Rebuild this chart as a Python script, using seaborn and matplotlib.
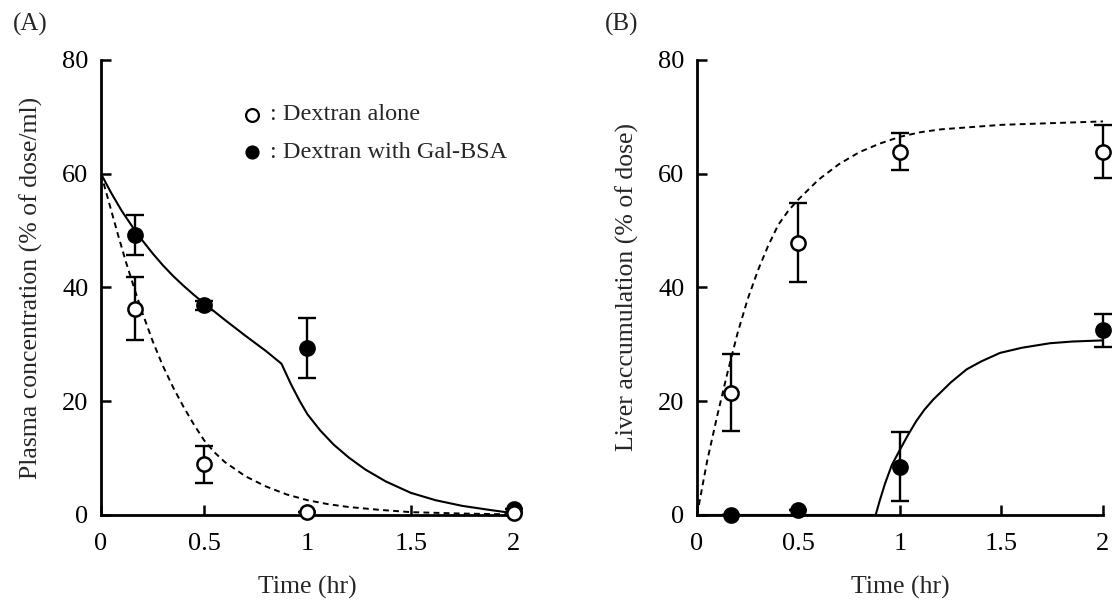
import numpy as np
import pandas as pd
import matplotlib
matplotlib.use("Agg")
import matplotlib.pyplot as plt
import seaborn as sns

# ---- observed data ----
t_obs = [1/6, 0.5, 1.0, 2.0]
# Panel A: plasma concentration (% of dose/ml)
plasma_alone = [36.3, 8.9, 0.5, 0.3]
plasma_alone_err = [5.5, 3.2, 0.0, 0.0]
plasma_gal = [49.3, 36.9, 29.3, 1.0]
plasma_gal_err = [3.5, 0.8, 5.3, 0.0]
# Panel B: liver accumulation (% of dose)
liver_alone = [21.5, 47.9, 63.9, 63.9]
liver_alone_err = [6.8, 7.0, 3.2, 4.7]
liver_gal = [0.0, 0.9, 8.5, 32.5]
liver_gal_err = [0.0, 0.0, 6.1, 2.9]

# ---- fitted curves ----
fitA_alone_t = [0, 0.04, 0.083, 0.12, 0.167, 0.2, 0.25, 0.3, 0.35, 0.4, 0.45, 0.5,
                0.55, 0.6, 0.7, 0.8, 0.9, 1.0, 1.1, 1.2, 1.35, 1.5, 1.75, 2.0]
fitA_alone_y = [60, 54.8, 49.2, 44.6, 39.2, 35.6, 30.6, 26.2, 22.4, 19.0, 15.9, 13.1,
                11.0, 9.3, 6.8, 5.0, 3.6, 2.6, 1.9, 1.4, 0.9, 0.5, 0.25, 0.1]
fitA_gal_t = [0, 0.05, 0.1, 0.15, 0.2, 0.25, 0.3, 0.35, 0.4, 0.45, 0.5, 0.6, 0.7, 0.8,
              0.874, 0.92, 0.963, 1.0, 1.061, 1.126, 1.2, 1.28, 1.379, 1.5, 1.62, 1.75,
              1.88, 2.0]
fitA_gal_y = [60, 56.6, 53.5, 50.8, 48.3, 46.0, 43.9, 42.0, 40.3, 38.7, 37.2, 34.3,
              31.5, 28.8, 26.6, 23.0, 20.0, 17.7, 14.9, 12.4, 10.1, 8.0, 5.9, 3.9, 2.6,
              1.6, 0.9, 0.3]
fitB_alone_t = [0, 0.05, 0.1, 0.15, 0.2, 0.25, 0.3, 0.35, 0.4, 0.45, 0.5, 0.6, 0.7, 0.8,
                0.9, 1.0, 1.1, 1.2, 1.35, 1.5, 1.75, 2.0]
fitB_alone_y = [0, 9.5, 17.5, 25, 32, 38, 43, 47.3, 51, 53.5, 55.5, 59, 61.7, 63.8,
                65.3, 66.5, 67.3, 67.8, 68.2, 68.6, 68.9, 69.2]
fitB_gal_t = [0, 0.88, 0.9, 0.926, 0.96, 1.0, 1.04, 1.08, 1.12, 1.164, 1.25, 1.328, 1.4,
              1.493, 1.6, 1.739, 1.85, 2.0]
fitB_gal_y = [0, 0, 2.5, 5.5, 8.8, 11.5, 14.1, 16.5, 18.5, 20.3, 23.3, 25.6, 27.0,
              28.5, 29.4, 30.2, 30.5, 30.7]

x_ticks = [0, 0.5, 1, 1.5, 2]
x_tick_labels = ["0", "0.5", "1", "1.5", "2"]
y_ticks = [0, 20, 40, 60, 80]

sns.set_style("ticks")
plt.rcParams['font.family'] = ['Liberation Serif', 'DejaVu Serif']

fig = plt.figure(figsize=(11.12, 6), dpi=100)
axA = fig.add_axes([0.0908, 0.1417, 0.3714, 0.7583])
axB = fig.add_axes([0.6268, 0.1417, 0.3651, 0.7583])

def style(ax, ylabel):
    ax.set_xlim(0, 2)
    ax.set_ylim(0, 80)
    ax.set_xticks(x_ticks)
    ax.set_xticklabels(x_tick_labels)
    ax.set_yticks(y_ticks)
    ax.tick_params(direction='in', length=7, width=1.8, labelsize=19, colors='black')
    ax.tick_params(axis='x', pad=13)
    ax.tick_params(axis='y', pad=9)
    for s in ['top', 'right']:
        ax.spines[s].set_visible(False)
    for s in ['left', 'bottom']:
        ax.spines[s].set_linewidth(2.0)
        ax.spines[s].set_color('black')
    ax.set_xlabel("Time (hr)", fontsize=18.5, labelpad=15)
    ax.set_ylabel(ylabel, fontsize=18.5, labelpad=14)

def draw(ax, alone, alone_err, gal, gal_err, ca_t, ca_y, cg_t, cg_y):
    dfa = pd.DataFrame({"t": ca_t, "y": ca_y})
    dfg = pd.DataFrame({"t": cg_t, "y": cg_y})
    sns.lineplot(data=dfa, x="t", y="y", ax=ax, color='black', lw=1.4,
                 linestyle=(0, (3, 2.2)), estimator=None, sort=False)
    sns.lineplot(data=dfg, x="t", y="y", ax=ax, color='black', lw=1.5,
                 estimator=None, sort=False)
    ax.errorbar(t_obs, alone, yerr=alone_err, fmt='none', ecolor='black',
                elinewidth=1.7, capsize=6.5, capthick=1.7, clip_on=False, zorder=3)
    ax.errorbar(t_obs, gal, yerr=gal_err, fmt='none', ecolor='black',
                elinewidth=1.7, capsize=6.5, capthick=1.7, clip_on=False, zorder=3)
    dpo = pd.DataFrame({"t": t_obs, "y": alone})
    dpg = pd.DataFrame({"t": t_obs, "y": gal})
    sns.scatterplot(data=dpo, x="t", y="y", ax=ax, s=105, facecolor='white',
                    edgecolor='black', linewidth=1.8, zorder=5, clip_on=False)
    sns.scatterplot(data=dpg, x="t", y="y", ax=ax, s=105, color='black',
                    edgecolor='black', linewidth=1.8, zorder=4, clip_on=False)

draw(axA, plasma_alone, plasma_alone_err, plasma_gal, plasma_gal_err,
     fitA_alone_t, fitA_alone_y, fitA_gal_t, fitA_gal_y)
style(axA, "Plasma concentration (% of dose/ml)")

draw(axB, liver_alone, liver_alone_err, liver_gal, liver_gal_err,
     fitB_alone_t, fitB_alone_y, fitB_gal_t, fitB_gal_y)
style(axB, "Liver accumulation (% of dose)")

# legend in panel A
axA.scatter([0.73], [70.4], s=85, facecolor='white', edgecolor='black', linewidth=1.6, zorder=6)
axA.text(0.82, 70.4, ": Dextran alone", fontsize=17.5, va='center', ha='left')
axA.scatter([0.73], [63.8], s=85, color='black', zorder=6)
axA.text(0.82, 63.8, ": Dextran with Gal-BSA", fontsize=17.5, va='center', ha='left')

fig.text(0.012, 0.96, "(A)", fontsize=18, va='center', ha='left')
fig.text(0.544, 0.96, "(B)", fontsize=18, va='center', ha='left')

fig.savefig("out.png", dpi=100)
